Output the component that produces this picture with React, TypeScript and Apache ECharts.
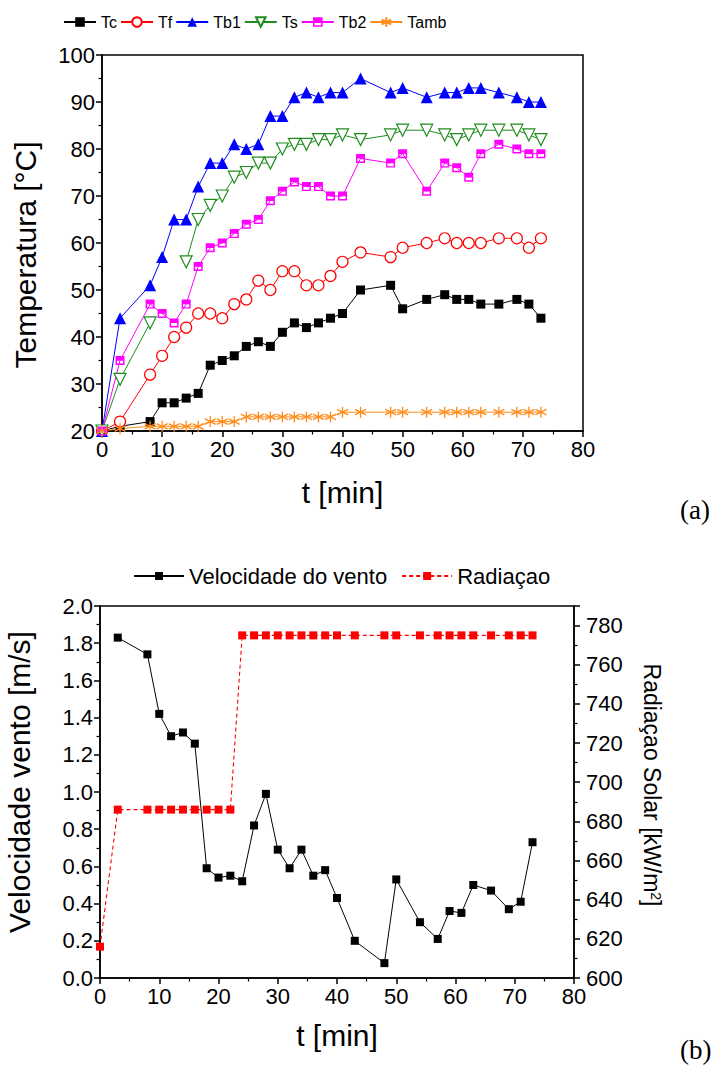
import React, { useEffect, useRef } from "react";
import * as echarts from "echarts";

// time points [min]
const timeMin = [0, 3, 8, 10, 12, 14, 16, 18, 20, 22, 24, 26, 28, 30, 32, 34, 36, 38, 40, 43, 48, 50, 54, 57, 59, 61, 63, 66, 69, 71, 73];

// chart (a) temperatures [°C]
const Tc = [20, 21, 22, 26, 26, 27, 28, 34, 35, 36, 38, 39, 38, 41, 43, 42, 43, 44, 45, 50, 51, 46, 48, 49, 48, 48, 47, 47, 48, 47, 44];
const Tf = [20, 22, 32, 36, 40, 42, 45, 45, 44, 47, 48, 52, 50, 54, 54, 51, 51, 53, 56, 58, 57, 59, 60, 61, 60, 60, 60, 61, 61, 59, 61];
const Tb1 = [20, 44, 51, 57, 65, 65, 72, 77, 77, 81, 80, 81, 87, 87, 91, 92, 91, 92, 92, 95, 92, 93, 91, 92, 92, 93, 93, 92, 91, 90, 90];
const Ts = [20, 31, 43, null, null, 56, 65, 68, 70, 74, 75, 77, 77, 80, 81, 81, 82, 82, 83, 82, 83, 84, 84, 83, 82, 83, 84, 84, 84, 83, 82];
const Tb2 = [20, 35, 47, 45, 43, 47, 55, 59, 60, 62, 64, 65, 69, 71, 73, 72, 72, 70, 70, 78, 77, 79, 71, 77, 76, 74, 79, 81, 80, 79, 79];
const Tamb = [20, 20.5, 21, 21, 21, 21, 21, 22, 22, 22, 23, 23, 23, 23, 23, 23, 23, 23, 24, 24, 24, 24, 24, 24, 24, 24, 24, 24, 24, 24, 24];

// chart (b)
const windSpeed = [null, 1.83, 1.74, 1.42, 1.30, 1.32, 1.26, 0.59, 0.54, 0.55, 0.52, 0.82, 0.99, 0.69, 0.59, 0.69, 0.55, 0.58, 0.43, 0.20, 0.08, 0.53, 0.30, 0.21, 0.36, 0.35, 0.50, 0.47, 0.37, 0.41, 0.73];
const radiation = [616, 686, 686, 686, 686, 686, 686, 686, 686, 686, 775, 775, 775, 775, 775, 775, 775, 775, 775, 775, 775, 775, 775, 775, 775, 775, 775, 775, 775, 775, 775];

const pairs = (vals: (number | null)[]) => timeMin.map((t, i) => [t, vals[i] == null ? null : vals[i]]);

const FONT = "'Liberation Sans', Arial, sans-serif";

const axisCommon = {
  axisLine: { show: true, onZero: false, lineStyle: { color: "#000", width: 1.5 } },
  axisTick: { show: true, length: 6, lineStyle: { color: "#000", width: 1.5 } },
  minorTick: { show: true, splitNumber: 2, length: 3.5, lineStyle: { color: "#000", width: 1.2 } },
  splitLine: { show: false },
  axisLabel: { color: "#000", fontSize: 22, margin: 7, fontFamily: FONT },
  nameTextStyle: { color: "#000", fontSize: 30, fontFamily: FONT },
};

const halfSquare = "path://M0,0 L10,0 L10,10 L0,10 Z M1.6,5.2 L1.6,8.4 L8.4,8.4 L8.4,5.2 Z";
const asterisk = "path://M5,0 L5,10 M0.7,2.5 L9.3,7.5 M9.3,2.5 L0.7,7.5";

export default function App() {
  const ref = useRef<HTMLDivElement>(null);
  useEffect(() => {
    if (!ref.current) return;
    const chart = echarts.init(ref.current, undefined, { renderer: "svg" });
    const option: any = {
      animation: false,
      backgroundColor: "#fff",
      textStyle: { fontFamily: FONT },
      grid: [
        { left: 102, top: 55, width: 481, height: 376, show: true, borderColor: "#000", borderWidth: 1.5, backgroundColor: "transparent", outerBoundsMode: "none", containLabel: false },
        { left: 100, top: 606, width: 474, height: 372, show: true, borderColor: "#000", borderWidth: 1.5, backgroundColor: "transparent", outerBoundsMode: "none", containLabel: false },
      ],
      xAxis: [
        { ...axisCommon, type: "value", gridIndex: 0, min: 0, max: 80, interval: 10, name: "t [min]", nameLocation: "middle", nameGap: 46 },
        { ...axisCommon, type: "value", gridIndex: 1, min: 0, max: 80, interval: 10, name: "t [min]", nameLocation: "middle", nameGap: 42 },
      ],
      yAxis: [
        {
          ...axisCommon, type: "value", gridIndex: 0, min: 20, max: 100, interval: 10, name: "Temperatura [°C]", nameLocation: "middle", nameRotate: 90, nameGap: 62,
          nameTextStyle: { ...axisCommon.nameTextStyle, padding: [0, 24, 0, 0] },
        },
        {
          ...axisCommon, type: "value", gridIndex: 1, min: 0, max: 2, interval: 0.2, name: "Velocidade vento [m/s]", nameLocation: "middle", nameRotate: 90, nameGap: 66,
          axisLabel: { ...axisCommon.axisLabel, formatter: (v: number) => v.toFixed(1) },
          nameTextStyle: { ...axisCommon.nameTextStyle, padding: [0, 0, 0, 20] },
        },
        {
          ...axisCommon, type: "value", gridIndex: 1, position: "right", min: 600, max: 790, interval: 20,
          name: "Radiaçao Solar [kW/m{sup|2}]", nameLocation: "middle", nameRotate: -90, nameGap: 66,
          axisLabel: { ...axisCommon.axisLabel, showMaxLabel: false, margin: 12 },
          nameTextStyle: { ...axisCommon.nameTextStyle, fontSize: 23, padding: [0, 14, 0, 0], rich: { sup: { fontSize: 14, verticalAlign: "top", color: "#000", fontFamily: FONT } } },
        },
      ],
      legend: [
        {
          data: ["Tc", "Tf", "Tb1", "Ts", "Tb2", "Tamb"], left: 58, top: 9, itemWidth: 32, itemHeight: 12, itemGap: 3,
          textStyle: { fontSize: 16, color: "#000", fontFamily: FONT },
        },
        {
          data: ["Velocidade do vento", "Radiaçao"], left: 128, top: 560, itemWidth: 50, itemHeight: 10, itemGap: 14,
          textStyle: { fontSize: 22, color: "#000", fontFamily: FONT },
        },
      ],
      graphic: [
        { type: "text", left: 680, top: 496, style: { text: "(a)", font: "27px 'Liberation Serif', 'Times New Roman', serif", fill: "#000" } },
        { type: "text", left: 680, top: 1036, style: { text: "(b)", font: "27px 'Liberation Serif', 'Times New Roman', serif", fill: "#000" } },
      ],
      series: [
        {
          name: "Tc", type: "line", xAxisIndex: 0, yAxisIndex: 0, data: pairs(Tc), symbol: "rect", symbolSize: 9,
          lineStyle: { color: "#000", width: 1 }, itemStyle: { color: "#000" },
        },
        {
          name: "Tf", type: "line", xAxisIndex: 0, yAxisIndex: 0, data: pairs(Tf), symbol: "circle", symbolSize: 11,
          lineStyle: { color: "#ff0000", width: 1 }, itemStyle: { color: "#fff", borderColor: "#ff0000", borderWidth: 1.2 },
        },
        {
          name: "Tb1", type: "line", xAxisIndex: 0, yAxisIndex: 0, data: pairs(Tb1), symbol: "triangle", symbolSize: 12,
          lineStyle: { color: "#0000ff", width: 1 }, itemStyle: { color: "#0000ff" },
        },
        {
          name: "Ts", type: "line", xAxisIndex: 0, yAxisIndex: 0, data: pairs(Ts), symbol: "triangle", symbolRotate: 180, symbolSize: 12,
          connectNulls: false,
          lineStyle: { color: "#1e8c1e", width: 1 }, itemStyle: { color: "#fff", borderColor: "#1e8c1e", borderWidth: 1.2 },
        },
        {
          name: "Tb2", type: "line", xAxisIndex: 0, yAxisIndex: 0, data: pairs(Tb2), symbol: halfSquare, symbolSize: 9,
          lineStyle: { color: "#ff00ff", width: 1 }, itemStyle: { color: "#ff00ff" },
        },
        {
          name: "Tamb", type: "line", xAxisIndex: 0, yAxisIndex: 0, data: pairs(Tamb), symbol: asterisk, symbolSize: 11,
          lineStyle: { color: "#ff8c1a", width: 1 }, itemStyle: { color: "transparent", borderColor: "#ff8c1a", borderWidth: 1.3 },
        },
        {
          name: "Velocidade do vento", type: "line", xAxisIndex: 1, yAxisIndex: 1, data: pairs(windSpeed), symbol: "rect", symbolSize: 8,
          lineStyle: { color: "#000", width: 1 }, itemStyle: { color: "#000" },
        },
        {
          name: "Radiaçao", type: "line", xAxisIndex: 1, yAxisIndex: 2, data: pairs(radiation), symbol: "rect", symbolSize: 8,
          lineStyle: { color: "#ff0000", width: 1.1, type: [4, 3] }, itemStyle: { color: "#ff0000" },
        },
      ],
    };
    chart.setOption(option);
    return () => chart.dispose();
  }, []);
  return <div ref={ref} style={{ position: "absolute", left: 0, top: 0, width: 716, height: 1068 }} />;
}
